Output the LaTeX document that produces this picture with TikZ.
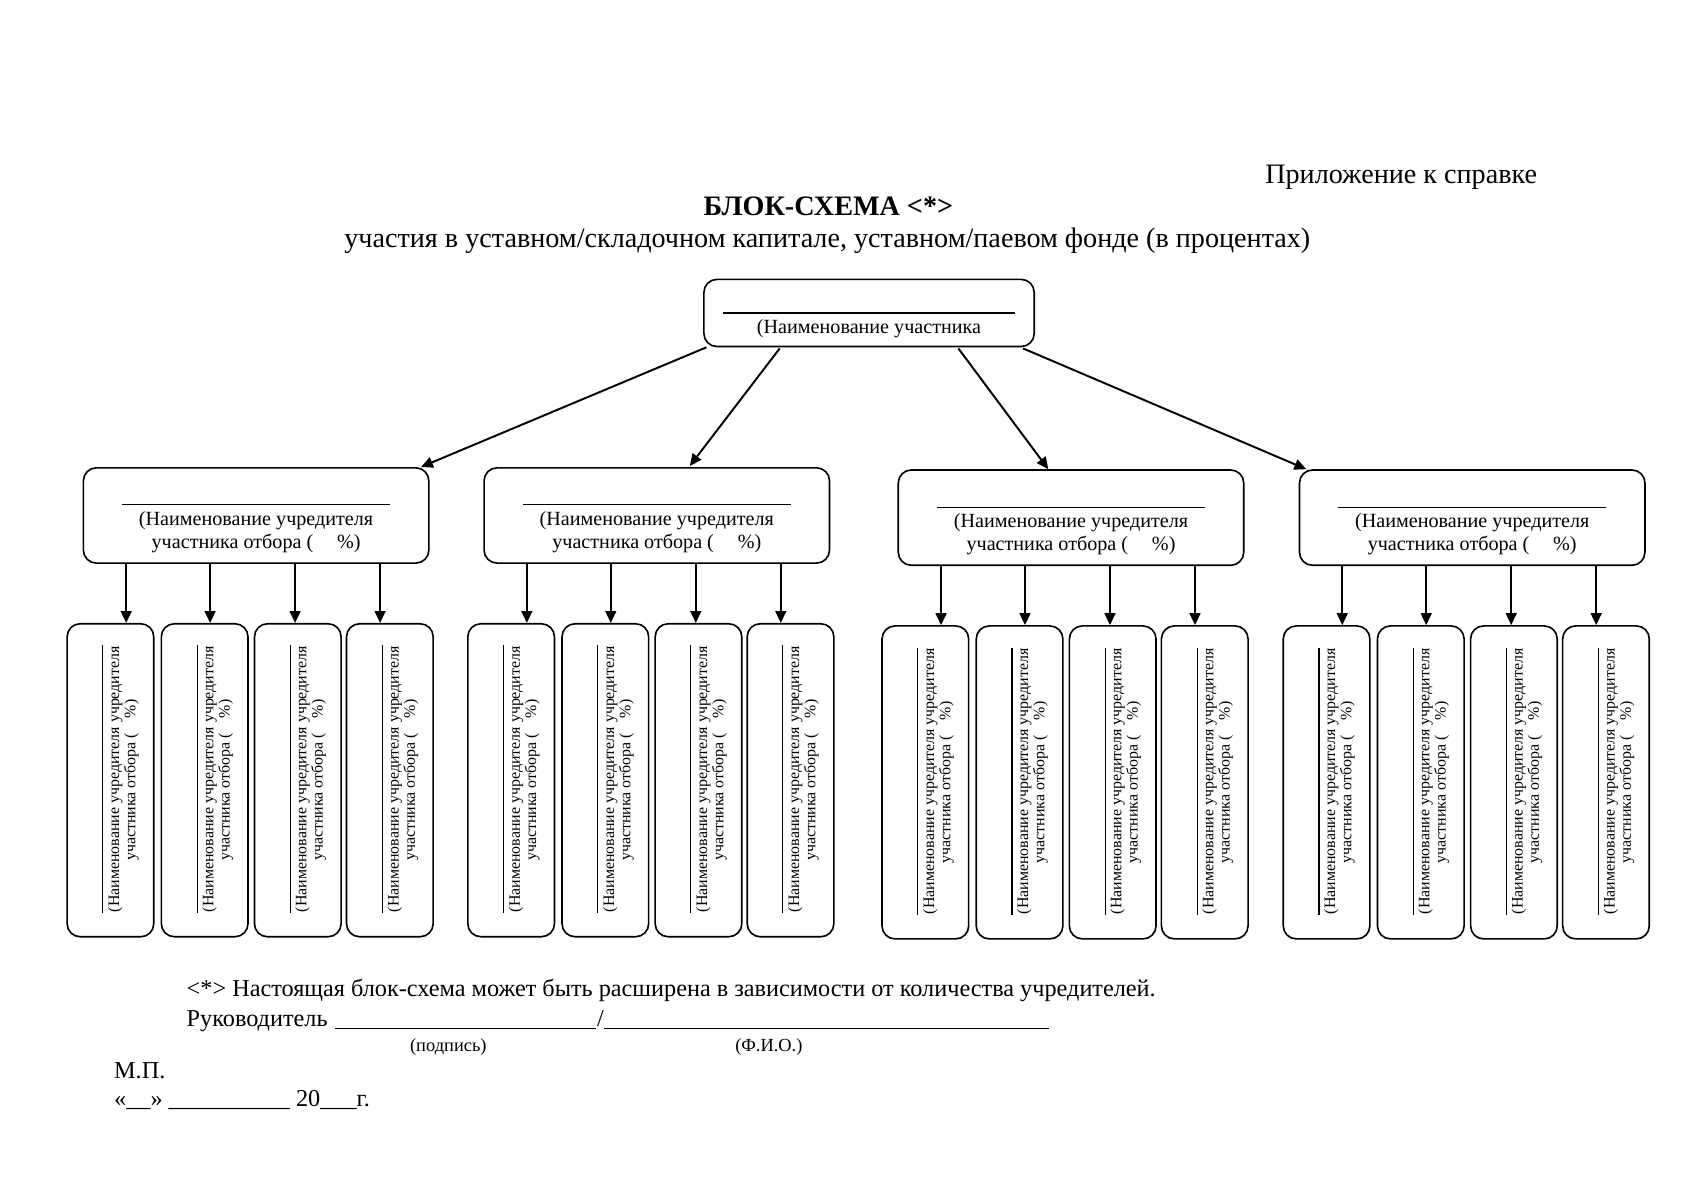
\documentclass[tikz,border=0pt]{standalone}
\usepackage{fontspec}
\setmainfont{Liberation Serif}
\usetikzlibrary{arrows.meta,calc}
\begin{document}
\begin{tikzpicture}[x=0.5pt,y=-0.5pt,
  box/.style={draw, line width=0.75pt, rounded corners=6pt, inner sep=0pt},
  topbox/.style={box, minimum width=152.5pt, minimum height=31pt},
  midbox/.style={box, minimum width=159.5pt, minimum height=44pt},
  smallbox/.style={box, minimum width=40pt, minimum height=144.5pt},
  arr/.style={-{Triangle[length=5.5pt,width=5pt]}, line width=0.9pt},
  boxrule/.style={line width=0.5pt},
  fieldrule/.style={line width=0.5pt},
  txt/.style={inner sep=0pt, anchor=base},
  big/.style={txt, font=\fontsize{13}{15}\selectfont},
  foot/.style={txt, font=\fontsize{11.2}{13}\selectfont},
  tiny/.style={txt, font=\fontsize{8.5}{10}\selectfont},
  midtxt/.style={txt, font=\fontsize{9.3}{11}\selectfont},
  smtxt/.style={txt, rotate=90, font=\fontsize{7.35}{9}\selectfont}]
\useasboundingbox (0,0) rectangle (1568,1108);

% header
\node[big, anchor=base west] (appx) at (1168,169) {Приложение к справке};
\node[big, font=\fontsize{13}{15}\selectfont\bfseries] (title) at (765,199) {БЛОК-СХЕМА <*>};
\node[big] (subtitle) at (764,229) {участия в уставном/складочном капитале, уставном/паевом фонде (в процентах)};

% top box
\node[topbox] (top) at (802.5,289) {};
\draw[boxrule] ($(top.center)+(-134.5,0)$) -- ++(269,0);
\node[midtxt] (toptxt) at (802.5,308) {(Наименование участника};

% founders
\foreach \g/\mx/\mt in {1/236.5/432, 2/606.5/432, 3/989/434, 4/1359.5/434}{
  \node[midbox] (m\g) at (\mx,\mt+44) {};
  \draw[boxrule] ($(m\g.north)+(-123.5,35)$) -- ++(247,0);
  \node[midtxt] (m\g a) at ($(m\g.north)+(0,54)$) {(Наименование учредителя};
  \node[midtxt] (m\g b) at ($(m\g.north)+(0,75)$) {участника отбора (\hspace{11pt}\%)};
  \foreach \k/\sx/\ax in {1/-134.5/-120, 2/-47.5/-42.5, 3/38.5/36, 4/123.5/114.5}{
    \node[smallbox] (s\g\k) at (\mx+\sx,\mt+288.5) {};
    \draw[boxrule] ($(s\g\k.center)+(-7,-124.5)$) -- ++(0,247);
    \node[smtxt] (s\g\k a) at ($(s\g\k.center)+(8,-1)$) {(Наименование учредителя учредителя};
    \node[smtxt] (s\g\k b) at ($(s\g\k.center)+(23,0)$) {участника отбора (\hspace{7pt}\%)};
    \coordinate (c\g\k) at (\mx+\ax,0);
    \draw[arr] (m\g.south -| c\g\k) -- (s\g\k.north -| c\g\k);
  }
}

% arrows from the participant
\draw[arr] ($(top.south west)+(3,0)$) -- ($(m1.north east)+(-8,0)$);
\draw[arr] ($(top.south)+(-82.5,1)$) -- ($(m2.north)+(30.5,-1)$);
\draw[arr] ($(top.south)+(82.5,1)$) -- ($(m3.north)+(-21,0)$);
\draw[arr] ($(top.south east)+(-11,1)$) -- ($(m4.north west)+(7,0)$);

% footer
\node[foot, anchor=base west] (note) at (172,920) {<*> Настоящая блок-схема может быть расширена в зависимости от количества учредителей.};
\node[foot, anchor=base west] (head) at (172,948) {Руководитель};
\draw[fieldrule] (309,950) -- (550,950);
\node[foot, anchor=base west] (slash) at (551,948) {/};
\draw[fieldrule] (558,950) -- (969,950);
\node[tiny] (sign) at (414,971) {(подпись)};
\node[tiny] (fio) at (710,971) {(Ф.И.О.)};
\node[foot, anchor=base west] (mp) at (105,996) {М.П.};
\node[foot, anchor=base west] (date) at (105,1022) {«\_\_»\ \_\_\_\_\_\_\_\_\_\_ 20\_\_\_г.};
\end{tikzpicture}
\end{document}
